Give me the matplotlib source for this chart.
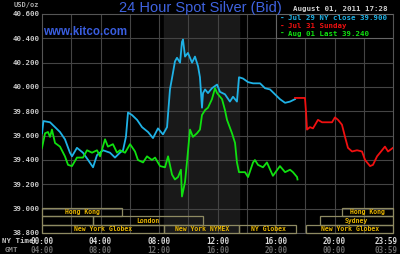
import matplotlib
matplotlib.use("Agg")
import matplotlib.pyplot as plt
import matplotlib.transforms as mtransforms
from matplotlib.patches import Rectangle
import numpy as np

# Jul 29 - NY close 39.900 (cyan)
jul29_hours = [0, 0.1, 0.55, 0.89, 1.23, 1.57, 1.91, 2.05, 2.39, 2.80, 3.15, 3.49, 3.76,
               4.17, 4.65, 4.99, 5.33, 5.54, 5.74, 5.88, 6.15, 6.50, 6.84, 7.25, 7.59,
               7.93, 8.27, 8.55, 8.75, 8.96, 9.09, 9.23, 9.44, 9.57, 9.64, 9.78, 9.98,
               10.26, 10.46, 10.67, 10.80, 10.94, 11.01, 11.15, 11.35, 11.62, 11.97,
               12.17, 12.51, 12.85, 13.06, 13.33, 13.47, 13.74, 14.09, 14.43, 14.91,
               15.25, 15.59, 15.93, 16.27, 16.62, 16.96, 17.30]
jul29_price = [39.62, 39.72, 39.71, 39.67, 39.63, 39.57, 39.46, 39.43, 39.50, 39.46, 39.40,
               39.34, 39.44, 39.48, 39.46, 39.42, 39.46, 39.48, 39.59, 39.79, 39.77, 39.73,
               39.67, 39.63, 39.58, 39.66, 39.61, 39.67, 39.98, 40.12, 40.21, 40.24, 40.20,
               40.37, 40.39, 40.25, 40.28, 40.20, 40.25, 40.17, 40.08, 39.83, 39.95, 39.98,
               39.95, 39.99, 40.02, 39.96, 39.94, 39.88, 39.92, 39.88, 40.08, 40.07, 40.04,
               40.03, 40.03, 39.99, 39.98, 39.94, 39.90, 39.87, 39.88, 39.90]

# Jul 31 - Sunday (red)
jul31_hours = [17.30, 17.98, 18.05, 18.12, 18.32, 18.53, 18.87, 19.15, 19.49, 19.83, 20.03,
               20.24, 20.51, 20.72, 20.92, 21.20, 21.54, 21.88, 22.09, 22.43, 22.63, 22.91,
               23.25, 23.45, 23.66, 24.0]
jul31_price = [39.91, 39.91, 39.80, 39.65, 39.67, 39.66, 39.73, 39.71, 39.71, 39.71, 39.75,
               39.73, 39.69, 39.59, 39.50, 39.47, 39.48, 39.47, 39.40, 39.35, 39.36, 39.43,
               39.48, 39.51, 39.47, 39.50]

# Aug 01 - Last 39.240 (green)
aug01_hours = [0, 0.21, 0.41, 0.55, 0.68, 0.89, 1.23, 1.57, 1.78, 2.05, 2.39, 2.80, 3.08,
               3.42, 3.76, 3.97, 4.31, 4.51, 4.85, 5.13, 5.33, 5.68, 6.02, 6.36, 6.56, 6.91,
               7.18, 7.52, 7.73, 8.07, 8.41, 8.62, 8.89, 9.09, 9.30, 9.50, 9.57, 9.78, 9.91,
               10.12, 10.32, 10.60, 10.80, 10.94, 11.15, 11.35, 11.62, 11.83, 11.97, 12.31,
               12.51, 12.65, 12.99, 13.20, 13.33, 13.47, 13.88, 14.09, 14.43, 14.56, 14.77,
               15.11, 15.38, 15.79, 16.27, 16.62, 16.96, 17.16, 17.44, 17.47]
aug01_price = [39.50, 39.62, 39.63, 39.59, 39.65, 39.54, 39.51, 39.43, 39.36, 39.35, 39.42,
               39.42, 39.48, 39.46, 39.48, 39.43, 39.57, 39.51, 39.53, 39.46, 39.48, 39.46,
               39.53, 39.47, 39.40, 39.38, 39.43, 39.40, 39.42, 39.35, 39.34, 39.43, 39.28,
               39.24, 39.26, 39.32, 39.10, 39.22, 39.38, 39.65, 39.59, 39.62, 39.65, 39.77,
               39.81, 39.83, 39.90, 39.99, 39.95, 39.90, 39.81, 39.73, 39.62, 39.54, 39.38,
               39.30, 39.30, 39.26, 39.38, 39.40, 39.36, 39.34, 39.38, 39.27, 39.35, 39.30,
               39.32, 39.30, 39.26, 39.24]

legend_labels = ["Jul 29 NY close 39.900", "Jul 31 Sunday", "Aug 01 Last 39.240"]
line_colors = ["#1fb2e6", "#f01010", "#10e010"]

y_ticks = [38.8, 39.0, 39.2, 39.4, 39.6, 39.8, 40.0, 40.2, 40.4, 40.6]
x_ticks = [0, 4, 8, 12, 16, 20, 23.52]
ny_labels = ["00:00", "04:00", "08:00", "12:00", "16:00", "20:00", "23:59"]
gmt_labels = ["04:00", "08:00", "12:00", "16:00", "20:00", "00:00", "03:59"]

# trading sessions: row 0 = bottom
sess_row = [2, 2, 1, 1, 1, 0, 0, 0, 0]
sess_start = [0, 20.5, 0, 3.5, 19.0, 0, 8.33, 13.5, 18.08]
sess_end = [5.5, 24, 3.5, 11.0, 24, 8.33, 13.5, 17.4, 24]
sess_name = ["Hong Kong", "Hong Kong", "", "London", "Sydney",
             "New York Globex", "New York NYMEX", "NY Globex", "New York Globex"]
pit_open, pit_close = 8.33, 13.5

mono = "DejaVu Sans Mono"
fig = plt.figure(figsize=(4, 2.54), dpi=100, facecolor="black")

# faint dotted backdrop texture
bg = fig.add_axes([0, 0, 1, 1], zorder=-1)
bg.set_xlim(0, 400)
bg.set_ylim(0, 254)
bg.axis("off")
gx, gy = np.meshgrid(np.arange(2, 400, 4), np.arange(2, 254, 4))
bg.scatter(gx.ravel(), gy.ravel(), s=0.15, color="#2a2a2a", marker="s", linewidths=0)

ax = fig.add_axes([0.105, 0.0827, 0.8775, 0.8622])
ax.patch.set_alpha(0)
ax.set_xlim(0, 24)
ax.set_ylim(38.8, 40.6)

ax.axvspan(pit_open, pit_close, color="#1c1c1c", alpha=0.9, zorder=0)
for h in range(2, 24, 2):
    ax.axvline(h, color="#444444", lw=0.8, zorder=1)
for v in y_ticks[1:-1]:
    ax.axhline(v, color="#444444", lw=0.8, zorder=1)
for s in ax.spines.values():
    s.set_color("#555555")
    s.set_linewidth(0.8)

ax.plot(jul29_hours, jul29_price, color=line_colors[0], lw=1.3, zorder=3)
ax.plot(jul31_hours, jul31_price, color=line_colors[1], lw=1.3, zorder=3)
ax.plot(aug01_hours, aug01_price, color=line_colors[2], lw=1.3, zorder=3)

ax.set_yticks(y_ticks)
ax.set_yticklabels(["{:.3f}".format(v) for v in y_ticks],
                   family=mono, fontsize=5.3, color="#c8c8c8", fontweight="bold")
ax.tick_params(axis="y", length=0, pad=2)
ax.set_xticks([])

trans = mtransforms.blended_transform_factory(ax.transData, ax.transAxes)
for h, a, b in zip(x_ticks, ny_labels, gmt_labels):
    ax.text(h, -0.04, a, transform=trans, ha="center", va="center", family=mono,
            fontsize=5.5, color="#d8d8d8", fontweight="bold", clip_on=False)
    ax.text(h, -0.08, b, transform=trans, ha="center", va="center", family=mono,
            fontsize=5.5, color="#6a6a6a", fontweight="bold", clip_on=False)
fig.text(0.005, 0.051, "NY Time", family=mono, fontsize=5.3, color="#c8c8c8",
         fontweight="bold", va="center")
fig.text(0.012, 0.016, "GMT", family=mono, fontsize=5.3, color="#8a8a8a",
         fontweight="bold", va="center")

row_h = 0.038
for r, a, b, name in zip(sess_row, sess_start, sess_end, sess_name):
    ax.add_patch(Rectangle((a, r * row_h), b - a, row_h, transform=trans, fill=False,
                           edgecolor="#8e8a62", lw=0.9, zorder=4, clip_on=False))
    if name:
        ax.text((a + b) / 2, r * row_h + row_h / 2, name, transform=trans, ha="center",
                va="center", family=mono, fontsize=4.7, color="#e6b400",
                fontweight="bold", zorder=5)

# legend box
ax.add_patch(Rectangle((0.668, 0.89), 0.332, 0.11, transform=ax.transAxes,
                       facecolor="black", edgecolor="#666666", lw=0.8, zorder=6))
for i, (lab, c) in enumerate(zip(legend_labels, line_colors)):
    yy = 0.98 - i * 0.035
    ax.text(0.678, yy, "-", transform=ax.transAxes, family=mono, fontsize=5.5,
            color=c, fontweight="bold", va="center", zorder=7)
    ax.text(0.7, yy, lab, transform=ax.transAxes, family=mono, fontsize=5.3,
            color=c, fontweight="bold", va="center", zorder=7)

fig.text(0.5, 0.968, "24 Hour Spot Silver (Bid)", ha="center", va="center",
         family="Liberation Sans", fontsize=10.5, color="#3f63e0")
fig.text(0.108, 0.874, "www.kitco.com", ha="left", va="center",
         family="Liberation Sans", fontsize=8.3, fontweight="bold", color="#3a5ee0")
fig.text(0.033, 0.98, "USD/oz", family=mono, fontsize=5, color="#aaaaaa",
         fontweight="bold", va="center")
fig.text(0.968, 0.965, "August 01, 2011 17:28", ha="right", va="center", family=mono,
         fontsize=5.4, color="#d0d0d0", fontweight="bold")

fig.savefig("out.png", dpi=100, facecolor="black")
